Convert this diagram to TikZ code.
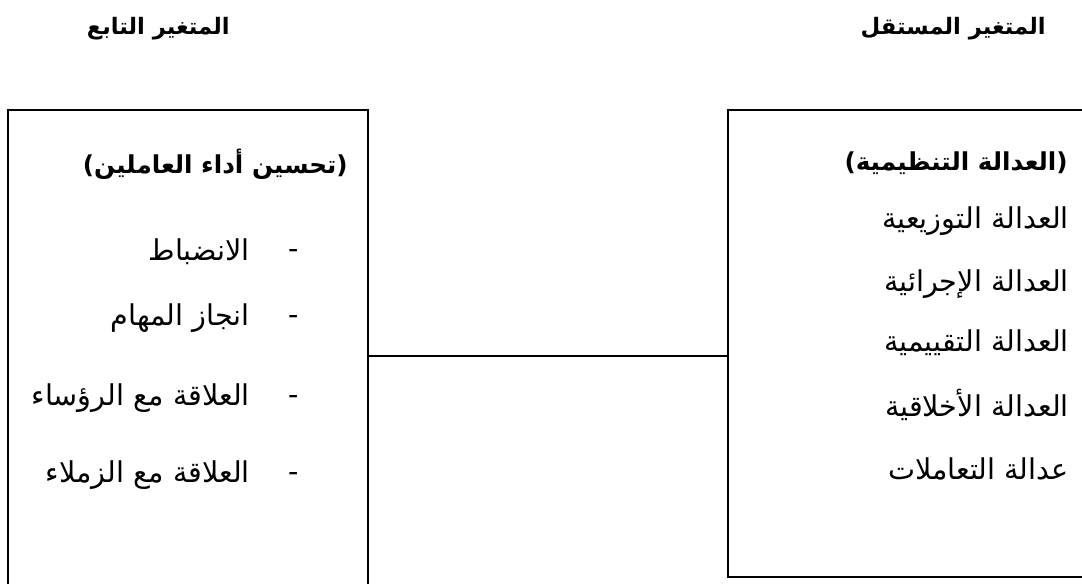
\documentclass[tikz,border=0pt]{standalone}
\usepackage{fontspec}
\TeXXeTstate=1
\newfontfamily\arabicfont[Script=Arabic]{DejaVu Sans}
\newcommand{\artext}[1]{\beginR #1\endR}

\begin{document}
\begin{tikzpicture}[
  x=0.75pt,
  y=-0.75pt,
  frame/.style={draw=black, line width=1.3pt, inner sep=0pt},
  head/.style={anchor=east, inner sep=0pt, font=\arabicfont\bfseries\fontsize{17}{20}\selectfont},
  boxtitle/.style={anchor=east, inner sep=0pt, font=\arabicfont\bfseries\fontsize{18.5}{22}\selectfont},
  entry/.style={anchor=east, inner sep=0pt, font=\arabicfont\fontsize{21.5}{25}\selectfont},
  bullet/.style={inner sep=0pt, font=\arabicfont\fontsize{21.5}{25}\selectfont},
  link/.style={draw=black, line width=1.3pt}
]
\clip (0,0) rectangle (1082,584);

% headings
\node[head] (hindep) at (1046,29) {\artext{المتغير المستقل}};
\node[head] (hdep) at (230,29) {\artext{المتغير التابع}};

% boxes (cut by the page edge)
\node[frame, minimum width=279pt, minimum height=350pt] (indep) at (914,343.5) {};
\node[frame, minimum width=270pt, minimum height=397.5pt] (dep) at (188,375) {};

% independent variable
\node[boxtitle] (ttl1) at (1068,163) {\artext{(العدالة التنظيمية)}};
\node[entry] (i1) at (1069,221) {\artext{العدالة التوزيعية}};
\node[entry] (i2) at (1069,284) {\artext{العدالة الإجرائية}};
\node[entry] (i3) at (1069,343) {\artext{العدالة التقييمية}};
\node[entry] (i4) at (1069,405) {\artext{العدالة الأخلاقية}};
\node[entry] (i5) at (1069,469) {\artext{عدالة التعاملات}};

% dependent variable
\node[boxtitle] (ttl2) at (348,164) {\artext{(تحسين أداء العاملين)}};
\node[bullet] (d1) at (294,254) {-};
\node[entry] (o1) at (250,252) {\artext{الانضباط}};
\node[bullet] (d2) at (294,320) {-};
\node[entry] (o2) at (250,318) {\artext{انجاز المهام}};
\node[bullet] (d3) at (294,400) {-};
\node[entry] (o3) at (250,398) {\artext{العلاقة مع الرؤساء}};
\node[bullet] (d4) at (294,477) {-};
\node[entry] (o4) at (250,475) {\artext{العلاقة مع الزملاء}};

% link
\coordinate (mid) at (548,356);
\draw[link] (dep.east |- mid) -- (indep.west |- mid);
\end{tikzpicture}
\end{document}
